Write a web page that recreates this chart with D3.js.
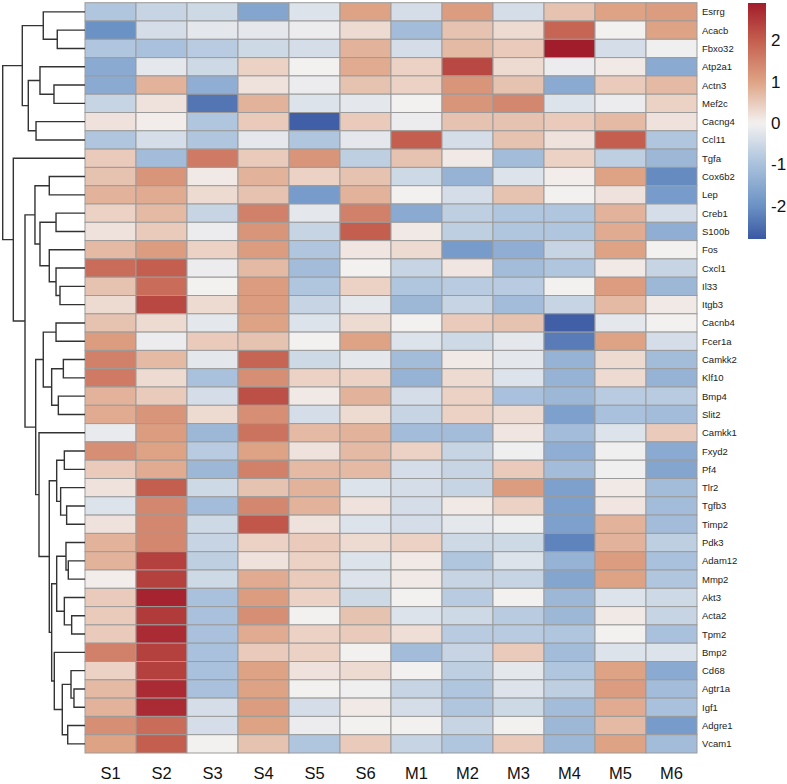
<!DOCTYPE html>
<html><head><meta charset="utf-8">
<script src="https://cdn.jsdelivr.net/npm/d3@7/dist/d3.min.js"></script>
<style>body{margin:0;background:#fff}svg{display:block}</style>
</head><body><svg id="c" width="787" height="784"></svg>
<script>
const genes = ["Esrrg","Acacb","Fbxo32","Atp2a1","Actn3","Mef2c","Cacng4","Ccl11","Tgfa","Cox6b2","Lep","Creb1","S100b","Fos","Cxcl1","Il33","Itgb3","Cacnb4","Fcer1a","Camkk2","Klf10","Bmp4","Slit2","Camkk1","Fxyd2","Pf4","Tlr2","Tgfb3","Timp2","Pdk3","Adam12","Mmp2","Akt3","Acta2","Tpm2","Bmp2","Cd68","Agtr1a","Igf1","Adgre1","Vcam1"];
const samples = ["S1","S2","S3","S4","S5","S6","M1","M2","M3","M4","M5","M6"];
// rows follow genes, columns follow samples
const values = [
 [-0.9,-0.6,-0.5,-1.6,-0.3, 1.0,-0.4, 1.1,-0.4, 0.6, 1.0, 1.1],
 [-2.0,-0.4,-0.2,-0.2,-0.1, 0.3,-1.1, 0.6, 0.3, 1.9, 0.0, 1.0],
 [-0.9,-1.0,-0.8,-0.5,-0.4, 0.8,-0.4, 0.7, 0.5, 2.9,-0.4,-0.05],
 [-1.5,-0.2,-0.5, 0.4, 0.0, 0.9, 0.4, 2.3, 0.3,-0.1, 0.1,-1.5],
 [-1.5, 0.8,-1.4, 0.2,-0.1, 0.6, 0.4, 1.2, 0.6,-1.5, 0.5, 0.7],
 [-0.6, 0.2,-2.4, 0.8,-0.3,-0.2, 0.0, 1.2, 1.4,-0.3,-0.1, 0.4],
 [ 0.2, 0.05,-0.9, 0.5,-2.7, 0.5,-0.1, 0.6, 0.6, 0.5, 0.7, 0.2],
 [-0.9,-0.4,-0.9,-0.2,-0.9,-0.2, 2.0,-0.4, 0.6, 0.2, 2.0,-0.9],
 [ 0.5,-1.1, 1.6, 0.5, 1.2,-0.7, 0.6, 0.1,-1.1, 0.4,-0.7,-1.2],
 [ 0.6, 1.2, 0.1, 0.8, 0.4, 0.6,-0.5,-1.3,-0.3, 0.05, 1.0,-2.1],
 [ 0.8, 0.9, 0.3, 0.6,-1.8, 0.8, 0.0,-0.4, 0.6, 0.0, 0.2,-1.8],
 [ 0.4, 0.7,-0.6, 1.5,-0.2, 1.5,-1.5,-0.7,-0.9,-0.9, 0.8,-0.4],
 [ 0.2, 0.5,-0.1, 1.2,-0.6, 2.0, 0.1,-0.7,-0.9,-0.9, 0.9,-1.4],
 [ 0.7, 1.1, 0.4, 1.1,-0.9, 0.15, 0.3,-1.8,-1.4,-0.6, 1.0, 0.0],
 [ 1.8, 2.0,-0.1, 0.7,-1.1, 0.0,-0.6, 0.15,-1.1,-0.9, 0.1,-0.6],
 [ 0.6, 1.8, 0.0, 1.1,-0.9, 0.4,-0.9,-0.8,-0.8, 0.0, 1.1,-1.2],
 [ 0.3, 2.3, 0.3, 1.1,-0.6,-0.2,-1.2,-0.6,-1.1,-0.6, 0.7, 0.1],
 [ 0.6, 0.3,-0.2, 1.0,-0.3, 0.3, 0.0, 0.5, 0.6,-2.7,-0.2, 0.0],
 [ 1.1,-0.1, 0.5, 0.6, 0.0, 1.0,-0.3,-0.5,-0.2,-2.3, 1.0,-0.4],
 [ 1.5, 0.7,-0.2, 1.9,-0.5,-0.2,-1.1, 0.1,-0.2,-1.3, 0.3,-1.1],
 [ 1.6, 0.3,-1.0, 1.3, 0.4, 0.4,-1.3, 0.3,-0.3,-1.3, 0.3,-1.3],
 [ 0.8, 0.5,-0.4, 2.2, 0.1, 0.8,-0.4, 0.4,-1.0,-1.2,-0.8,-0.8],
 [ 0.9, 1.2, 0.3, 1.3,-0.4, 0.3,-0.6, 0.4, 0.3,-1.7,-1.0,-1.1],
 [-0.15,1.1,-1.2, 1.7, 0.7, 0.8,-1.1,-1.1, 0.15,-1.1,-0.3, 0.5],
 [ 1.3, 1.0,-0.8, 1.0, 0.2, 0.7, 0.4,-0.6,-0.05,-1.4,-0.05,-1.5],
 [ 0.5, 0.9,-1.2, 1.5, 0.7, 0.7,-0.4,-0.6, 0.5,-1.1,-0.05,-1.6],
 [ 0.2, 2.0,-0.5, 0.6, 0.8,-0.3,-0.4,-0.6, 1.1,-1.7, 0.1,-1.1],
 [-0.3, 1.4,-1.1, 1.4, 0.8, 0.2,-0.4, 0.1, 0.4,-1.7, 0.15,-1.1],
 [ 0.2, 1.4,-0.5, 2.1, 0.2,-0.3,-0.4,-0.2,-0.05,-1.7, 0.8,-1.1],
 [ 0.8, 1.4,-0.6, 0.4, 0.5, 0.3, 0.4,-0.5,-0.5,-2.2, 0.8,-0.7],
 [ 0.8, 2.4,-0.7, 0.2, 0.4,-0.3, 0.1,-0.9,-0.3,-1.3, 1.1,-1.0],
 [ 0.05,2.4,-0.5, 0.9, 0.5,-0.3, 0.1,-0.6,-0.6,-1.6, 1.0,-0.9],
 [ 0.5, 2.8,-1.0, 1.1, 0.4,-0.5, 0.0,-0.8, 0.0,-1.2,-0.3,-0.5],
 [ 0.5, 2.5,-1.0, 1.3, 0.0, 0.6,-0.3,-0.5,-0.8,-1.2, 0.1,-0.6],
 [ 0.5, 2.7,-1.0, 0.9, 0.4, 0.5, 0.25,-0.8,-0.8,-0.9, 0.0,-1.0],
 [ 1.5, 2.4,-1.0, 0.5, 0.4, 0.0,-1.1,-0.6, 0.5,-1.1,-0.3,-0.3],
 [ 0.4, 2.4,-1.0, 1.0, 0.2, 0.3, 0.0,-0.7,-0.2,-0.9, 1.0,-1.5],
 [ 0.7, 2.7,-1.0, 1.0, 0.0,-0.05,-0.6,-0.9,-0.3,-0.7, 1.1,-1.1],
 [ 0.8, 2.7,-0.4, 1.1,-0.4, 0.1,-0.4,-0.9,-0.5,-1.1, 0.9,-1.0],
 [ 1.3, 1.8,-0.4, 1.0,-0.1, 0.0, 0.0,-0.6, 0.0,-1.2, 0.7,-1.8],
 [ 1.0, 2.0, 0.0, 0.6,-0.9, 0.5,-0.6,-0.9, 0.5,-1.2, 1.0,-1.1]
];
// row clustering: [left, right, height]; "Ln" = leaf n (gene index), "Mn" = merge n
const merges = [
 ["L1","L2",3.37],["L0","M0",5.07],["L4","L5",3.77],["L3","M2",5.47],["L6","L7",5.95],
 ["M3","M4",6.89],["M1","M5",7.62],["L9","L10",4.34],["L11","L12",3.52],["L15","L16",3.04],
 ["L14","M9",3.52],["L13","M10",4.34],["M8","M11",5.47],["M7","M12",6.08],["L17","L18",3.52],
 ["L19","L20",2.63],["L21","L22",3.24],["M15","M16",4.05],["M14","M17",5.07],["L24","L25",2.51],
 ["L27","L28",2.23],["L26","M20",2.96],["M19","M21",3.44],["L30","L31",2.03],["L29","M23",2.31],
 ["L33","L34",1.62],["L32","M25",2.51],["M24","M26",3.44],["L37","L38",1.34],["L36","M28",1.70],
 ["L39","L40",2.10],["M29","M30",2.76],["L35","M31",3.73],["M27","M32",4.05],["M22","M33",4.34],
 ["L23","M34",5.59],["M18","M35",5.99],["M13","M36",7.29],["L8","M37",8.71],["M6","M38",10.0]
];
const legendTicks = [-2,-1,0,1,2];
const colorStops = [-2.8,-2,-1,0,1,2,2.9];
const colorRange = ["#3a58a3","#6b92c5","#a9c1dc","#f3f1f0","#dea385","#c45e4e","#a21d2b"];

const svg = d3.select("#c");
const color = d3.scaleLinear().domain(colorStops).range(colorRange).interpolate(d3.interpolateRgb).clamp(true);
const x = d3.scaleBand().domain(samples).range([85, 697]);
const y = d3.scaleBand().domain(genes).range([2.7, 753]);

// cells
const cells = [];
values.forEach((row, i) => row.forEach((v, j) => cells.push({g: genes[i], s: samples[j], v})));
svg.append("g").selectAll("rect").data(cells).join("rect")
  .attr("x", d => x(d.s)).attr("y", d => y(d.g))
  .attr("width", x.bandwidth()).attr("height", y.bandwidth())
  .attr("fill", d => color(d.v))
  .attr("stroke", "#9b9b9b").attr("stroke-width", 1);

// row labels
svg.append("g").selectAll("text").data(genes).join("text")
  .attr("x", 702).attr("y", d => y(d) + y.bandwidth()/2)
  .attr("dominant-baseline", "central")
  .attr("font-family", "Liberation Sans, Arial, sans-serif")
  .attr("font-size", 9.5).attr("fill", "#222")
  .text(d => d);

// column labels
svg.append("g").selectAll("text").data(samples).join("text")
  .attr("x", d => x(d) + x.bandwidth()/2).attr("y", 779)
  .attr("text-anchor", "middle")
  .attr("font-family", "Liberation Sans, Arial, sans-serif")
  .attr("font-size", 16.5).attr("fill", "#111")
  .text(d => d);

// dendrogram
const hx = d3.scaleLinear().domain([0, 10]).range([85, 2.7]);
const nodes = {};
genes.forEach((g, i) => nodes["L"+i] = {y: y(g) + y.bandwidth()/2, h: 0});
const segs = [];
merges.forEach(([a, b, h], k) => {
  const A = nodes[a], B = nodes[b];
  nodes["M"+k] = {y: (A.y + B.y)/2, h};
  segs.push({a: A, b: B, h});
});
svg.append("g").selectAll("path").data(segs).join("path")
  .attr("d", d => `M${hx(d.a.h)},${d.a.y}H${hx(d.h)}V${d.b.y}H${hx(d.b.h)}`)
  .attr("fill", "none").attr("stroke", "#333").attr("stroke-width", 1.4);

// legend
const ly = d3.scaleLinear().domain([colorStops[0], colorStops[colorStops.length-1]]).range([239, 3]);
const defs = svg.append("defs");
const grad = defs.append("linearGradient").attr("id", "lg").attr("x1", 0).attr("x2", 0).attr("y1", 1).attr("y2", 0);
const nStops = 60;
d3.range(nStops + 1).forEach(i => {
  const v = colorStops[0] + (colorStops[colorStops.length-1] - colorStops[0]) * i / nStops;
  grad.append("stop").attr("offset", i / nStops).attr("stop-color", color(v));
});
svg.append("rect").attr("x", 748).attr("y", ly.range()[1]).attr("width", 18)
  .attr("height", ly.range()[0] - ly.range()[1]).attr("fill", "url(#lg)");
const axis = d3.axisRight(ly).tickValues(legendTicks).tickSize(0).tickPadding(5)
  .tickFormat(d => d < 0 ? "-" + Math.abs(d) : String(d));
const ag = svg.append("g").attr("transform", "translate(766,0)").call(axis);
ag.select(".domain").remove();
ag.selectAll("text").attr("font-family", "Liberation Sans, Arial, sans-serif").attr("font-size", 17).attr("fill", "#111");
</script></body></html>
